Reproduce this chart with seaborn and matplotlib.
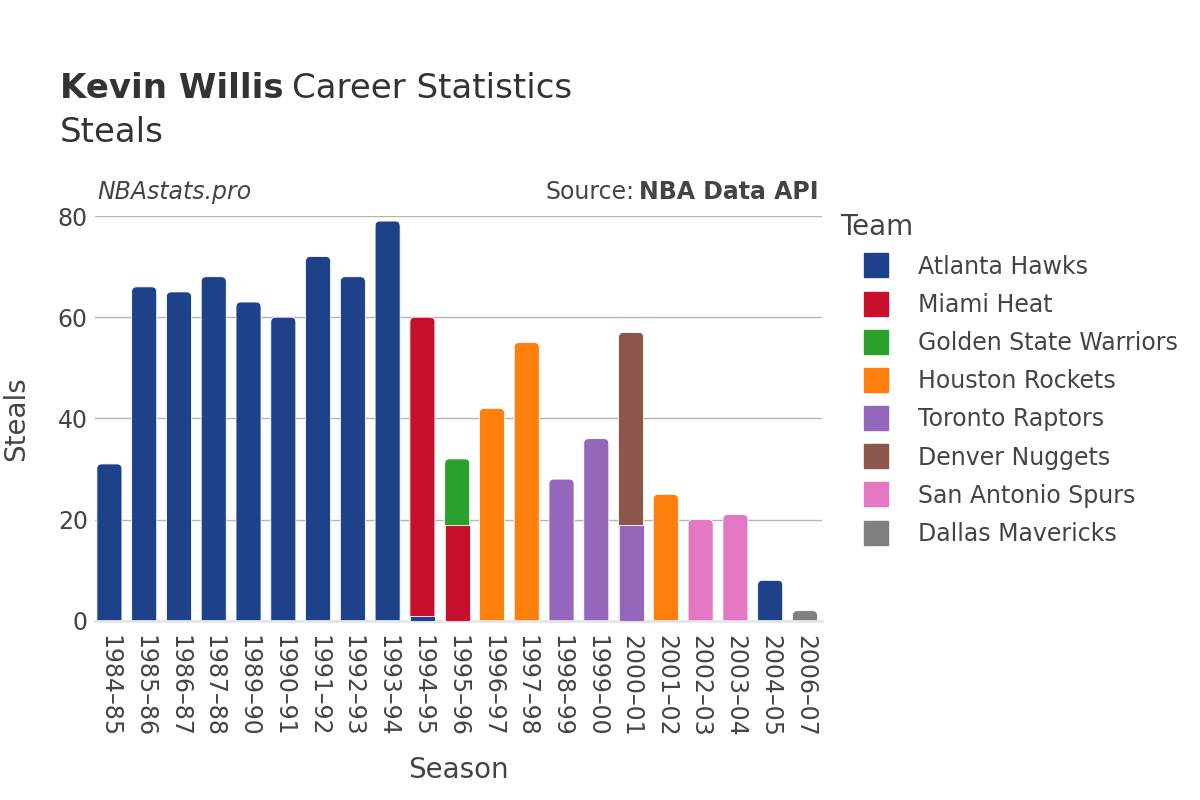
import pandas as pd
import matplotlib.pyplot as plt
import seaborn as sns
from matplotlib.patches import FancyBboxPatch
from matplotlib.lines import Line2D

# Data
seasons = ["1984–85", "1985–86", "1986–87", "1987–88", "1989–90", "1990–91", "1991–92",
           "1992–93", "1993–94", "1994–95", "1995–96", "1996–97", "1997–98", "1998–99",
           "1999–00", "2000–01", "2001–02", "2002–03", "2003–04", "2004–05", "2006–07"]

row_season = ["1984–85", "1985–86", "1986–87", "1987–88", "1989–90", "1990–91", "1991–92",
              "1992–93", "1993–94", "1994–95", "1994–95", "1995–96", "1995–96", "1996–97",
              "1997–98", "1998–99", "1999–00", "2000–01", "2000–01", "2001–02", "2002–03",
              "2003–04", "2004–05", "2006–07"]
row_team = ["Atlanta Hawks", "Atlanta Hawks", "Atlanta Hawks", "Atlanta Hawks", "Atlanta Hawks",
            "Atlanta Hawks", "Atlanta Hawks", "Atlanta Hawks", "Atlanta Hawks", "Atlanta Hawks",
            "Miami Heat", "Miami Heat", "Golden State Warriors", "Houston Rockets",
            "Houston Rockets", "Toronto Raptors", "Toronto Raptors", "Toronto Raptors",
            "Denver Nuggets", "Houston Rockets", "San Antonio Spurs", "San Antonio Spurs",
            "Atlanta Hawks", "Dallas Mavericks"]
row_steals = [31, 66, 65, 68, 63, 60, 72, 68, 79, 1, 59, 19, 13, 42, 55, 28, 36, 19, 38,
              25, 20, 21, 8, 2]

teams = ["Atlanta Hawks", "Miami Heat", "Golden State Warriors", "Houston Rockets",
         "Toronto Raptors", "Denver Nuggets", "San Antonio Spurs", "Dallas Mavericks"]
team_colors = ["#1d428a", "#c8102e", "#2ca02c", "#ff7f0e", "#9467bd", "#8c564b",
               "#e377c2", "#7f7f7f"]
palette = dict(zip(teams, team_colors))

df = pd.DataFrame({"Season": row_season, "Team": row_team, "Steals": row_steals})
df["Level"] = df.groupby("Season").cumcount()
df["Top"] = df.groupby("Season")["Steals"].cumsum()
totals = df.groupby("Season")["Steals"].sum()

plt.rcParams['font.family'] = ['DejaVu Sans']
text_col = "#444444"
title_col = "#333333"

fig = plt.figure(figsize=(12, 8), dpi=100)
ax = fig.add_axes([0.079, 0.224, 0.606, 0.506])

# upper segments first (cumulative height), lower segments drawn over them
for lvl in sorted(df["Level"].unique(), reverse=True):
    sub = df[df["Level"] == lvl]
    sns.barplot(data=sub, x="Season", y="Top", hue="Team", order=seasons, hue_order=teams,
                palette=palette, dodge=False, width=0.72, legend=False, ax=ax,
                saturation=1, edgecolor="white", linewidth=0.6)

ax.set_xlim(-0.42, 20.49)
ax.set_ylim(0, 80)
fig.canvas.draw()

# rounded tops on the topmost segment of each stack
bbox = ax.get_window_extent()
px_x = bbox.width / (20.49 + 0.42)
px_y = bbox.height / 80
aspect = px_x / px_y
for p in list(ax.patches):
    h = p.get_height()
    if h <= 0:
        continue
    xc = p.get_x() + p.get_width() / 2
    season = seasons[int(round(xc))]
    if abs(h - totals[season]) < 1e-6:
        fb = FancyBboxPatch((p.get_x(), -3), p.get_width(), h + 3,
                            boxstyle="round,pad=0,rounding_size=0.14",
                            mutation_aspect=aspect, facecolor=p.get_facecolor(),
                            edgecolor="white", linewidth=0.6, zorder=2)
        p.remove()
        ax.add_patch(fb)
    else:
        p.set_zorder(3)

ax.set_yticks([0, 20, 40, 60, 80])
ax.grid(axis="y", color="#b4b4b4", linewidth=1)
ax.set_axisbelow(True)
for s in ["top", "right", "left"]:
    ax.spines[s].set_visible(False)
ax.spines["bottom"].set_color("#e6e6e6")
ax.spines["bottom"].set_linewidth(2)
ax.tick_params(axis="both", length=0, labelsize=17, labelcolor=text_col)
ax.tick_params(axis="x", pad=10)
ax.tick_params(axis="y", pad=5)
plt.setp(ax.get_xticklabels(), rotation=270, ha="center", va="top")

ax.set_xlabel("Season", fontsize=20, color=text_col, labelpad=14)
ax.set_ylabel("Steals", fontsize=20, color=text_col, labelpad=20)

# titles
renderer = fig.canvas.get_renderer()
t1 = fig.text(0.05, 0.889, "Kevin Willis", fontsize=24.5, fontweight="bold", color=title_col, va="center")
ext = t1.get_window_extent(renderer)
fig.text(ext.x1 / 1200 + 0.007, 0.889, "Career Statistics", fontsize=24.5, color=title_col, va="center")
fig.text(0.05, 0.835, "Steals", fontsize=24.5, color=title_col, va="center")

fig.text(0.081, 0.76, "NBAstats.pro", fontsize=17, style="italic", color=text_col, va="center")
s2 = fig.text(0.682, 0.76, "NBA Data API", fontsize=17, fontweight="bold", color=text_col,
              va="center", ha="right")
ext2 = s2.get_window_extent(renderer)
fig.text(ext2.x0 / 1200 - 0.004, 0.76, "Source:", fontsize=17, color=text_col, va="center", ha="right")

# legend
handles = [Line2D([0], [0], marker="s", linestyle="none", markersize=17,
                  markerfacecolor=c, markeredgecolor=c) for c in team_colors]
leg = fig.legend(handles, teams, loc="upper left", bbox_to_anchor=(0.686, 0.755),
                 frameon=False, fontsize=17, title="Team", title_fontsize=20,
                 labelspacing=0.6, handlelength=3.1, handletextpad=0.2, borderpad=0.2,
                 alignment="left")
for t in leg.get_texts():
    t.set_color(text_col)
leg.get_title().set_color(text_col)

fig.savefig("out.png", dpi=100)
